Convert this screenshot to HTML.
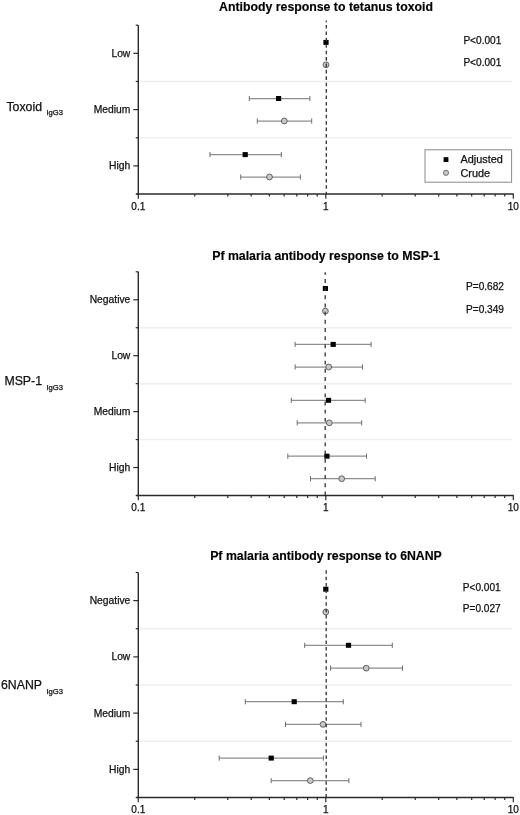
<!DOCTYPE html>
<html><head><meta charset="utf-8"><title>Forest plots</title>
<style>
html,body{margin:0;padding:0;background:#fff;}
svg{display:block;}
text{font-family:'Liberation Sans',Arial,sans-serif;fill:#111;stroke:#111;stroke-width:0.25px;}
.t{font-weight:bold;font-size:12.3px;fill:#000;stroke:#000;stroke-width:0.15px;}
.c{font-size:10.3px;}
.p{font-size:10.1px;}
.yl{font-size:12.3px;}
.sub{font-size:7.6px;}
.xt{font-size:10px;}
.lg{font-size:10.9px;}
</style></head><body>
<svg width="520" height="815" viewBox="0 0 520 815">
<rect width="520" height="815" fill="#fff"/>
<text class="t" x="326" y="11.0" text-anchor="middle">Antibody response to tetanus toxoid</text>
<line x1="139.3" y1="81.47" x2="512" y2="81.47" stroke="#efefef" stroke-width="1.6"/>
<line x1="139.3" y1="137.73" x2="512" y2="137.73" stroke="#efefef" stroke-width="1.6"/>
<line x1="138.3" y1="25.20" x2="138.3" y2="194.00" stroke="#2b2b2b" stroke-width="1.4"/>
<line x1="135.7" y1="25.20" x2="138.3" y2="25.20" stroke="#2b2b2b" stroke-width="1.2"/>
<line x1="135.7" y1="81.47" x2="138.3" y2="81.47" stroke="#2b2b2b" stroke-width="1.2"/>
<line x1="135.7" y1="137.73" x2="138.3" y2="137.73" stroke="#2b2b2b" stroke-width="1.2"/>
<line x1="135.7" y1="194.00" x2="138.3" y2="194.00" stroke="#2b2b2b" stroke-width="1.2"/>
<line x1="133.3" y1="53.33" x2="138.3" y2="53.33" stroke="#2b2b2b" stroke-width="1.2"/>
<text class="c" x="130.3" y="56.83" text-anchor="end">Low</text>
<line x1="133.3" y1="109.60" x2="138.3" y2="109.60" stroke="#2b2b2b" stroke-width="1.2"/>
<text class="c" x="130.3" y="113.10" text-anchor="end">Medium</text>
<line x1="133.3" y1="165.87" x2="138.3" y2="165.87" stroke="#2b2b2b" stroke-width="1.2"/>
<text class="c" x="130.3" y="169.37" text-anchor="end">High</text>
<line x1="136.3" y1="194.00" x2="513.75" y2="194.00" stroke="#2b2b2b" stroke-width="1.4"/>
<line x1="138.30" y1="194.00" x2="138.30" y2="198.80" stroke="#2b2b2b" stroke-width="1.2"/>
<line x1="194.74" y1="194.00" x2="194.74" y2="196.40" stroke="#2b2b2b" stroke-width="1.2"/>
<line x1="227.76" y1="194.00" x2="227.76" y2="196.40" stroke="#2b2b2b" stroke-width="1.2"/>
<line x1="251.19" y1="194.00" x2="251.19" y2="196.40" stroke="#2b2b2b" stroke-width="1.2"/>
<line x1="269.36" y1="194.00" x2="269.36" y2="196.40" stroke="#2b2b2b" stroke-width="1.2"/>
<line x1="284.20" y1="194.00" x2="284.20" y2="196.40" stroke="#2b2b2b" stroke-width="1.2"/>
<line x1="296.76" y1="194.00" x2="296.76" y2="196.40" stroke="#2b2b2b" stroke-width="1.2"/>
<line x1="307.63" y1="194.00" x2="307.63" y2="196.40" stroke="#2b2b2b" stroke-width="1.2"/>
<line x1="317.22" y1="194.00" x2="317.22" y2="196.40" stroke="#2b2b2b" stroke-width="1.2"/>
<line x1="325.80" y1="194.00" x2="325.80" y2="198.80" stroke="#2b2b2b" stroke-width="1.2"/>
<line x1="382.24" y1="194.00" x2="382.24" y2="196.40" stroke="#2b2b2b" stroke-width="1.2"/>
<line x1="415.26" y1="194.00" x2="415.26" y2="196.40" stroke="#2b2b2b" stroke-width="1.2"/>
<line x1="438.69" y1="194.00" x2="438.69" y2="196.40" stroke="#2b2b2b" stroke-width="1.2"/>
<line x1="456.86" y1="194.00" x2="456.86" y2="196.40" stroke="#2b2b2b" stroke-width="1.2"/>
<line x1="471.70" y1="194.00" x2="471.70" y2="196.40" stroke="#2b2b2b" stroke-width="1.2"/>
<line x1="484.26" y1="194.00" x2="484.26" y2="196.40" stroke="#2b2b2b" stroke-width="1.2"/>
<line x1="495.13" y1="194.00" x2="495.13" y2="196.40" stroke="#2b2b2b" stroke-width="1.2"/>
<line x1="504.72" y1="194.00" x2="504.72" y2="196.40" stroke="#2b2b2b" stroke-width="1.2"/>
<line x1="513.30" y1="194.00" x2="513.30" y2="198.80" stroke="#2b2b2b" stroke-width="1.2"/>
<text class="xt" x="138.30" y="209.50" text-anchor="middle">0.1</text>
<text class="xt" x="325.80" y="209.50" text-anchor="middle">1</text>
<text class="xt" x="513.30" y="209.50" text-anchor="middle">10</text>
<text class="yl" x="42" y="110.5" text-anchor="end">Toxoid</text>
<text class="sub" x="46.5" y="115.2">IgG3</text>
<rect x="323.40" y="39.90" width="5.2" height="5.0" fill="#000"/>
<circle cx="326" cy="64.80" r="2.9" fill="#c8c8c8" stroke="#555" stroke-width="0.9"/>
<line x1="249.3" y1="98.50" x2="309.9" y2="98.50" stroke="#8e8e8e" stroke-width="1.25"/>
<line x1="249.3" y1="95.90" x2="249.3" y2="101.10" stroke="#6e6e6e" stroke-width="1"/>
<line x1="309.9" y1="95.90" x2="309.9" y2="101.10" stroke="#6e6e6e" stroke-width="1"/>
<line x1="257.3" y1="121.00" x2="311.7" y2="121.00" stroke="#8e8e8e" stroke-width="1.25"/>
<line x1="257.3" y1="118.40" x2="257.3" y2="123.60" stroke="#6e6e6e" stroke-width="1"/>
<line x1="311.7" y1="118.40" x2="311.7" y2="123.60" stroke="#6e6e6e" stroke-width="1"/>
<rect x="276.00" y="96.00" width="5.2" height="5.0" fill="#000"/>
<circle cx="284.3" cy="121.00" r="2.9" fill="#c8c8c8" stroke="#555" stroke-width="0.9"/>
<line x1="210.0" y1="154.60" x2="281.3" y2="154.60" stroke="#8e8e8e" stroke-width="1.25"/>
<line x1="210.0" y1="152.00" x2="210.0" y2="157.20" stroke="#6e6e6e" stroke-width="1"/>
<line x1="281.3" y1="152.00" x2="281.3" y2="157.20" stroke="#6e6e6e" stroke-width="1"/>
<line x1="240.7" y1="177.00" x2="300.4" y2="177.00" stroke="#8e8e8e" stroke-width="1.25"/>
<line x1="240.7" y1="174.40" x2="240.7" y2="179.60" stroke="#6e6e6e" stroke-width="1"/>
<line x1="300.4" y1="174.40" x2="300.4" y2="179.60" stroke="#6e6e6e" stroke-width="1"/>
<rect x="242.60" y="152.10" width="5.2" height="5.0" fill="#000"/>
<circle cx="269.5" cy="177.00" r="2.9" fill="#c8c8c8" stroke="#555" stroke-width="0.9"/>
<line x1="326.3" y1="20.4" x2="326.3" y2="194.00" stroke="#333" stroke-width="1.3" stroke-dasharray="3.6 2.81" stroke-dashoffset="1.81"/>
<text class="p" x="463.4" y="44.2">P&lt;0.001</text>
<text class="p" x="463.4" y="66.2">P&lt;0.001</text>
<rect x="425" y="149.8" width="86.6" height="32.4" fill="#fff" stroke="#8a8a8a" stroke-width="1"/>
<rect x="443.6" y="157.2" width="4.8" height="4.8" fill="#000"/>
<circle cx="446" cy="172.8" r="2.6" fill="#c8c8c8" stroke="#555" stroke-width="0.8"/>
<text class="lg" x="460.5" y="163.3">Adjusted</text>
<text class="lg" x="460.5" y="176.6">Crude</text>
<text class="t" x="326" y="259.5" text-anchor="middle">Pf malaria antibody response to MSP-1</text>
<line x1="139.3" y1="327.73" x2="512" y2="327.73" stroke="#efefef" stroke-width="1.6"/>
<line x1="139.3" y1="383.65" x2="512" y2="383.65" stroke="#efefef" stroke-width="1.6"/>
<line x1="139.3" y1="439.57" x2="512" y2="439.57" stroke="#efefef" stroke-width="1.6"/>
<line x1="138.3" y1="271.80" x2="138.3" y2="495.50" stroke="#2b2b2b" stroke-width="1.4"/>
<line x1="135.7" y1="271.80" x2="138.3" y2="271.80" stroke="#2b2b2b" stroke-width="1.2"/>
<line x1="135.7" y1="327.73" x2="138.3" y2="327.73" stroke="#2b2b2b" stroke-width="1.2"/>
<line x1="135.7" y1="383.65" x2="138.3" y2="383.65" stroke="#2b2b2b" stroke-width="1.2"/>
<line x1="135.7" y1="439.57" x2="138.3" y2="439.57" stroke="#2b2b2b" stroke-width="1.2"/>
<line x1="135.7" y1="495.50" x2="138.3" y2="495.50" stroke="#2b2b2b" stroke-width="1.2"/>
<line x1="133.3" y1="299.76" x2="138.3" y2="299.76" stroke="#2b2b2b" stroke-width="1.2"/>
<text class="c" x="130.3" y="303.26" text-anchor="end">Negative</text>
<line x1="133.3" y1="355.69" x2="138.3" y2="355.69" stroke="#2b2b2b" stroke-width="1.2"/>
<text class="c" x="130.3" y="359.19" text-anchor="end">Low</text>
<line x1="133.3" y1="411.61" x2="138.3" y2="411.61" stroke="#2b2b2b" stroke-width="1.2"/>
<text class="c" x="130.3" y="415.11" text-anchor="end">Medium</text>
<line x1="133.3" y1="467.54" x2="138.3" y2="467.54" stroke="#2b2b2b" stroke-width="1.2"/>
<text class="c" x="130.3" y="471.04" text-anchor="end">High</text>
<line x1="136.3" y1="495.50" x2="513.75" y2="495.50" stroke="#2b2b2b" stroke-width="1.4"/>
<line x1="138.30" y1="495.50" x2="138.30" y2="500.30" stroke="#2b2b2b" stroke-width="1.2"/>
<line x1="194.74" y1="495.50" x2="194.74" y2="497.90" stroke="#2b2b2b" stroke-width="1.2"/>
<line x1="227.76" y1="495.50" x2="227.76" y2="497.90" stroke="#2b2b2b" stroke-width="1.2"/>
<line x1="251.19" y1="495.50" x2="251.19" y2="497.90" stroke="#2b2b2b" stroke-width="1.2"/>
<line x1="269.36" y1="495.50" x2="269.36" y2="497.90" stroke="#2b2b2b" stroke-width="1.2"/>
<line x1="284.20" y1="495.50" x2="284.20" y2="497.90" stroke="#2b2b2b" stroke-width="1.2"/>
<line x1="296.76" y1="495.50" x2="296.76" y2="497.90" stroke="#2b2b2b" stroke-width="1.2"/>
<line x1="307.63" y1="495.50" x2="307.63" y2="497.90" stroke="#2b2b2b" stroke-width="1.2"/>
<line x1="317.22" y1="495.50" x2="317.22" y2="497.90" stroke="#2b2b2b" stroke-width="1.2"/>
<line x1="325.80" y1="495.50" x2="325.80" y2="500.30" stroke="#2b2b2b" stroke-width="1.2"/>
<line x1="382.24" y1="495.50" x2="382.24" y2="497.90" stroke="#2b2b2b" stroke-width="1.2"/>
<line x1="415.26" y1="495.50" x2="415.26" y2="497.90" stroke="#2b2b2b" stroke-width="1.2"/>
<line x1="438.69" y1="495.50" x2="438.69" y2="497.90" stroke="#2b2b2b" stroke-width="1.2"/>
<line x1="456.86" y1="495.50" x2="456.86" y2="497.90" stroke="#2b2b2b" stroke-width="1.2"/>
<line x1="471.70" y1="495.50" x2="471.70" y2="497.90" stroke="#2b2b2b" stroke-width="1.2"/>
<line x1="484.26" y1="495.50" x2="484.26" y2="497.90" stroke="#2b2b2b" stroke-width="1.2"/>
<line x1="495.13" y1="495.50" x2="495.13" y2="497.90" stroke="#2b2b2b" stroke-width="1.2"/>
<line x1="504.72" y1="495.50" x2="504.72" y2="497.90" stroke="#2b2b2b" stroke-width="1.2"/>
<line x1="513.30" y1="495.50" x2="513.30" y2="500.30" stroke="#2b2b2b" stroke-width="1.2"/>
<text class="xt" x="138.30" y="511.00" text-anchor="middle">0.1</text>
<text class="xt" x="325.80" y="511.00" text-anchor="middle">1</text>
<text class="xt" x="513.30" y="511.00" text-anchor="middle">10</text>
<text class="yl" x="42" y="385" text-anchor="end">MSP-1</text>
<text class="sub" x="46.5" y="389.8">IgG3</text>
<rect x="322.80" y="286.00" width="5.2" height="5.0" fill="#000"/>
<circle cx="325.4" cy="311.10" r="2.9" fill="#c8c8c8" stroke="#555" stroke-width="0.9"/>
<line x1="295.1" y1="344.40" x2="371.1" y2="344.40" stroke="#8e8e8e" stroke-width="1.25"/>
<line x1="295.1" y1="341.80" x2="295.1" y2="347.00" stroke="#6e6e6e" stroke-width="1"/>
<line x1="371.1" y1="341.80" x2="371.1" y2="347.00" stroke="#6e6e6e" stroke-width="1"/>
<line x1="295.1" y1="367.00" x2="362.5" y2="367.00" stroke="#8e8e8e" stroke-width="1.25"/>
<line x1="295.1" y1="364.40" x2="295.1" y2="369.60" stroke="#6e6e6e" stroke-width="1"/>
<line x1="362.5" y1="364.40" x2="362.5" y2="369.60" stroke="#6e6e6e" stroke-width="1"/>
<rect x="330.60" y="341.90" width="5.2" height="5.0" fill="#000"/>
<circle cx="328.7" cy="367.00" r="2.9" fill="#c8c8c8" stroke="#555" stroke-width="0.9"/>
<line x1="291.3" y1="400.30" x2="365.2" y2="400.30" stroke="#8e8e8e" stroke-width="1.25"/>
<line x1="291.3" y1="397.70" x2="291.3" y2="402.90" stroke="#6e6e6e" stroke-width="1"/>
<line x1="365.2" y1="397.70" x2="365.2" y2="402.90" stroke="#6e6e6e" stroke-width="1"/>
<line x1="297.2" y1="422.80" x2="361.7" y2="422.80" stroke="#8e8e8e" stroke-width="1.25"/>
<line x1="297.2" y1="420.20" x2="297.2" y2="425.40" stroke="#6e6e6e" stroke-width="1"/>
<line x1="361.7" y1="420.20" x2="361.7" y2="425.40" stroke="#6e6e6e" stroke-width="1"/>
<rect x="325.90" y="397.80" width="5.2" height="5.0" fill="#000"/>
<circle cx="329.3" cy="422.80" r="2.9" fill="#c8c8c8" stroke="#555" stroke-width="0.9"/>
<line x1="287.8" y1="456.20" x2="366.5" y2="456.20" stroke="#8e8e8e" stroke-width="1.25"/>
<line x1="287.8" y1="453.60" x2="287.8" y2="458.80" stroke="#6e6e6e" stroke-width="1"/>
<line x1="366.5" y1="453.60" x2="366.5" y2="458.80" stroke="#6e6e6e" stroke-width="1"/>
<line x1="310.5" y1="478.70" x2="375.2" y2="478.70" stroke="#8e8e8e" stroke-width="1.25"/>
<line x1="310.5" y1="476.10" x2="310.5" y2="481.30" stroke="#6e6e6e" stroke-width="1"/>
<line x1="375.2" y1="476.10" x2="375.2" y2="481.30" stroke="#6e6e6e" stroke-width="1"/>
<rect x="324.30" y="453.70" width="5.2" height="5.0" fill="#000"/>
<circle cx="341.7" cy="478.70" r="2.9" fill="#c8c8c8" stroke="#555" stroke-width="0.9"/>
<line x1="325.2" y1="272.3" x2="325.2" y2="495.50" stroke="#333" stroke-width="1.3" stroke-dasharray="3.9 4.27" stroke-dashoffset="1.47"/>
<text class="p" x="466.0" y="289.5">P=0.682</text>
<text class="p" x="466.0" y="312.6">P=0.349</text>
<text class="t" x="326" y="560.1" text-anchor="middle">Pf malaria antibody response to 6NANP</text>
<line x1="139.3" y1="628.75" x2="512" y2="628.75" stroke="#efefef" stroke-width="1.6"/>
<line x1="139.3" y1="685.00" x2="512" y2="685.00" stroke="#efefef" stroke-width="1.6"/>
<line x1="139.3" y1="741.25" x2="512" y2="741.25" stroke="#efefef" stroke-width="1.6"/>
<line x1="138.3" y1="572.50" x2="138.3" y2="797.50" stroke="#2b2b2b" stroke-width="1.4"/>
<line x1="135.7" y1="572.50" x2="138.3" y2="572.50" stroke="#2b2b2b" stroke-width="1.2"/>
<line x1="135.7" y1="628.75" x2="138.3" y2="628.75" stroke="#2b2b2b" stroke-width="1.2"/>
<line x1="135.7" y1="685.00" x2="138.3" y2="685.00" stroke="#2b2b2b" stroke-width="1.2"/>
<line x1="135.7" y1="741.25" x2="138.3" y2="741.25" stroke="#2b2b2b" stroke-width="1.2"/>
<line x1="135.7" y1="797.50" x2="138.3" y2="797.50" stroke="#2b2b2b" stroke-width="1.2"/>
<line x1="133.3" y1="600.62" x2="138.3" y2="600.62" stroke="#2b2b2b" stroke-width="1.2"/>
<text class="c" x="130.3" y="604.12" text-anchor="end">Negative</text>
<line x1="133.3" y1="656.88" x2="138.3" y2="656.88" stroke="#2b2b2b" stroke-width="1.2"/>
<text class="c" x="130.3" y="660.38" text-anchor="end">Low</text>
<line x1="133.3" y1="713.12" x2="138.3" y2="713.12" stroke="#2b2b2b" stroke-width="1.2"/>
<text class="c" x="130.3" y="716.62" text-anchor="end">Medium</text>
<line x1="133.3" y1="769.38" x2="138.3" y2="769.38" stroke="#2b2b2b" stroke-width="1.2"/>
<text class="c" x="130.3" y="772.88" text-anchor="end">High</text>
<line x1="136.3" y1="797.50" x2="513.75" y2="797.50" stroke="#2b2b2b" stroke-width="1.4"/>
<line x1="138.30" y1="797.50" x2="138.30" y2="802.30" stroke="#2b2b2b" stroke-width="1.2"/>
<line x1="194.74" y1="797.50" x2="194.74" y2="799.90" stroke="#2b2b2b" stroke-width="1.2"/>
<line x1="227.76" y1="797.50" x2="227.76" y2="799.90" stroke="#2b2b2b" stroke-width="1.2"/>
<line x1="251.19" y1="797.50" x2="251.19" y2="799.90" stroke="#2b2b2b" stroke-width="1.2"/>
<line x1="269.36" y1="797.50" x2="269.36" y2="799.90" stroke="#2b2b2b" stroke-width="1.2"/>
<line x1="284.20" y1="797.50" x2="284.20" y2="799.90" stroke="#2b2b2b" stroke-width="1.2"/>
<line x1="296.76" y1="797.50" x2="296.76" y2="799.90" stroke="#2b2b2b" stroke-width="1.2"/>
<line x1="307.63" y1="797.50" x2="307.63" y2="799.90" stroke="#2b2b2b" stroke-width="1.2"/>
<line x1="317.22" y1="797.50" x2="317.22" y2="799.90" stroke="#2b2b2b" stroke-width="1.2"/>
<line x1="325.80" y1="797.50" x2="325.80" y2="802.30" stroke="#2b2b2b" stroke-width="1.2"/>
<line x1="382.24" y1="797.50" x2="382.24" y2="799.90" stroke="#2b2b2b" stroke-width="1.2"/>
<line x1="415.26" y1="797.50" x2="415.26" y2="799.90" stroke="#2b2b2b" stroke-width="1.2"/>
<line x1="438.69" y1="797.50" x2="438.69" y2="799.90" stroke="#2b2b2b" stroke-width="1.2"/>
<line x1="456.86" y1="797.50" x2="456.86" y2="799.90" stroke="#2b2b2b" stroke-width="1.2"/>
<line x1="471.70" y1="797.50" x2="471.70" y2="799.90" stroke="#2b2b2b" stroke-width="1.2"/>
<line x1="484.26" y1="797.50" x2="484.26" y2="799.90" stroke="#2b2b2b" stroke-width="1.2"/>
<line x1="495.13" y1="797.50" x2="495.13" y2="799.90" stroke="#2b2b2b" stroke-width="1.2"/>
<line x1="504.72" y1="797.50" x2="504.72" y2="799.90" stroke="#2b2b2b" stroke-width="1.2"/>
<line x1="513.30" y1="797.50" x2="513.30" y2="802.30" stroke="#2b2b2b" stroke-width="1.2"/>
<text class="xt" x="138.30" y="813.00" text-anchor="middle">0.1</text>
<text class="xt" x="325.80" y="813.00" text-anchor="middle">1</text>
<text class="xt" x="513.30" y="813.00" text-anchor="middle">10</text>
<text class="yl" x="42" y="688.8" text-anchor="end">6NANP</text>
<text class="sub" x="46.5" y="693.8">IgG3</text>
<rect x="323.20" y="586.70" width="5.2" height="5.0" fill="#000"/>
<circle cx="325.8" cy="612.00" r="2.9" fill="#c8c8c8" stroke="#555" stroke-width="0.9"/>
<line x1="304.7" y1="645.30" x2="392.3" y2="645.30" stroke="#8e8e8e" stroke-width="1.25"/>
<line x1="304.7" y1="642.70" x2="304.7" y2="647.90" stroke="#6e6e6e" stroke-width="1"/>
<line x1="392.3" y1="642.70" x2="392.3" y2="647.90" stroke="#6e6e6e" stroke-width="1"/>
<line x1="330.6" y1="668.20" x2="402.5" y2="668.20" stroke="#8e8e8e" stroke-width="1.25"/>
<line x1="330.6" y1="665.60" x2="330.6" y2="670.80" stroke="#6e6e6e" stroke-width="1"/>
<line x1="402.5" y1="665.60" x2="402.5" y2="670.80" stroke="#6e6e6e" stroke-width="1"/>
<rect x="345.90" y="642.80" width="5.2" height="5.0" fill="#000"/>
<circle cx="366.2" cy="668.20" r="2.9" fill="#c8c8c8" stroke="#555" stroke-width="0.9"/>
<line x1="245.3" y1="701.70" x2="343.3" y2="701.70" stroke="#8e8e8e" stroke-width="1.25"/>
<line x1="245.3" y1="699.10" x2="245.3" y2="704.30" stroke="#6e6e6e" stroke-width="1"/>
<line x1="343.3" y1="699.10" x2="343.3" y2="704.30" stroke="#6e6e6e" stroke-width="1"/>
<line x1="285.5" y1="724.40" x2="361.0" y2="724.40" stroke="#8e8e8e" stroke-width="1.25"/>
<line x1="285.5" y1="721.80" x2="285.5" y2="727.00" stroke="#6e6e6e" stroke-width="1"/>
<line x1="361.0" y1="721.80" x2="361.0" y2="727.00" stroke="#6e6e6e" stroke-width="1"/>
<rect x="291.60" y="699.20" width="5.2" height="5.0" fill="#000"/>
<circle cx="323.0" cy="724.40" r="2.9" fill="#c8c8c8" stroke="#555" stroke-width="0.9"/>
<line x1="219.2" y1="758.10" x2="323.4" y2="758.10" stroke="#8e8e8e" stroke-width="1.25"/>
<line x1="219.2" y1="755.50" x2="219.2" y2="760.70" stroke="#6e6e6e" stroke-width="1"/>
<line x1="323.4" y1="755.50" x2="323.4" y2="760.70" stroke="#6e6e6e" stroke-width="1"/>
<line x1="271.2" y1="780.60" x2="348.9" y2="780.60" stroke="#8e8e8e" stroke-width="1.25"/>
<line x1="271.2" y1="778.00" x2="271.2" y2="783.20" stroke="#6e6e6e" stroke-width="1"/>
<line x1="348.9" y1="778.00" x2="348.9" y2="783.20" stroke="#6e6e6e" stroke-width="1"/>
<rect x="268.60" y="755.60" width="5.2" height="5.0" fill="#000"/>
<circle cx="310.3" cy="780.60" r="2.9" fill="#c8c8c8" stroke="#555" stroke-width="0.9"/>
<line x1="326.2" y1="570.0" x2="326.2" y2="797.50" stroke="#333" stroke-width="1.3" stroke-dasharray="3.5 2.89" stroke-dashoffset="6.09"/>
<text class="p" x="462.8" y="590.9">P&lt;0.001</text>
<text class="p" x="462.8" y="611.7">P=0.027</text>
</svg></body></html>
